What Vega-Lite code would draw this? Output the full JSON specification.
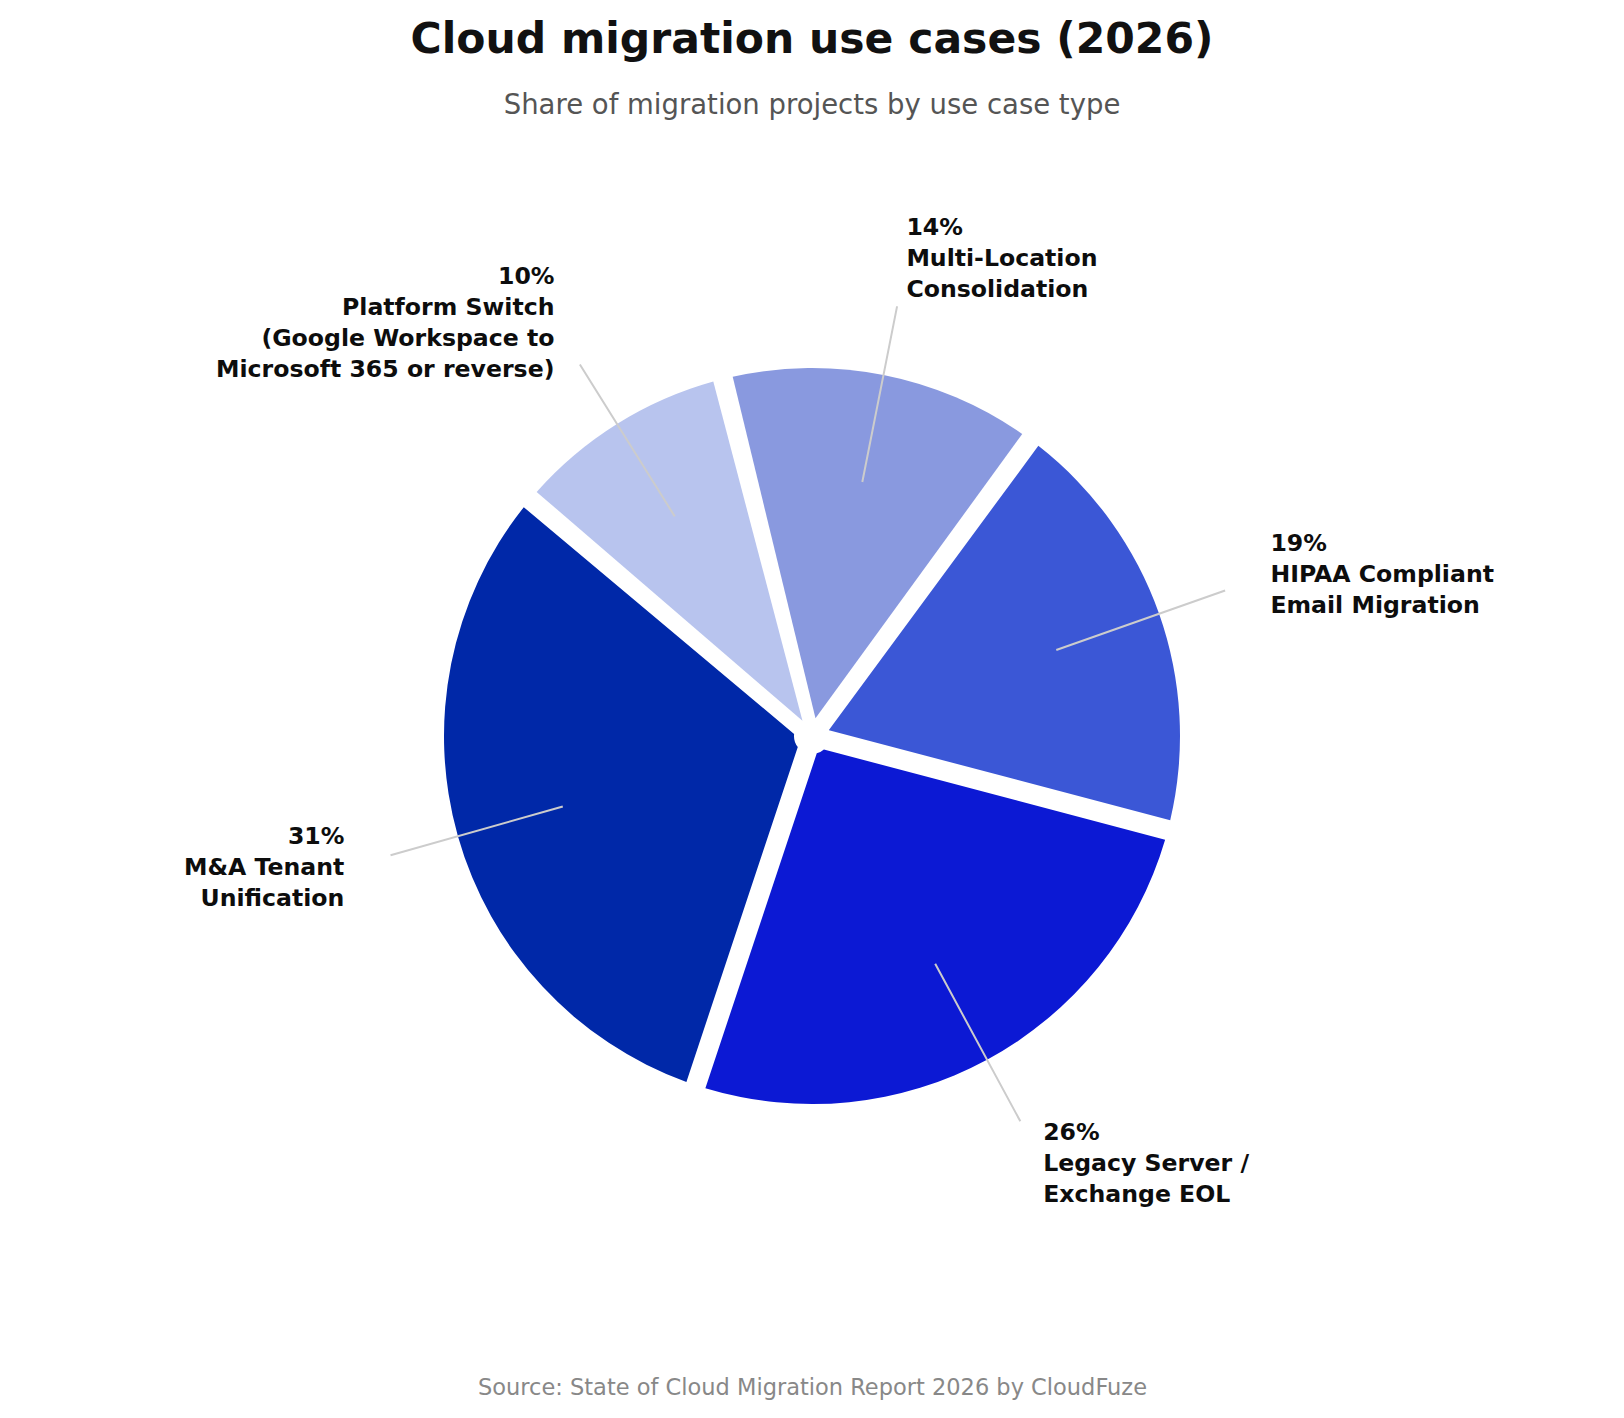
{
  "$schema": "https://vega.github.io/schema/vega-lite/v6.json",
  "autosize": {"type": "fit", "contains": "padding"},
  "width": 1624,
  "height": 1418,
  "padding": {"left": 0, "right": 0, "top": 19, "bottom": 19},
  "background": "white",
  "title": {
    "text": "Cloud migration use cases (2026)",
    "subtitle": "Share of migration projects by use case type",
    "anchor": "middle",
    "font": "DejaVu Sans",
    "fontSize": 42.5,
    "fontWeight": "bold",
    "color": "#111111",
    "subtitleFont": "DejaVu Sans",
    "subtitleFontSize": 27.5,
    "subtitleColor": "#555555",
    "subtitlePadding": 30,
    "offset": 10
  },
  "data": {
    "values": [
      {"use_case": "M&A Tenant Unification", "share": 31, "label": ["31%", "M&A Tenant", "Unification"]},
      {"use_case": "Legacy Server / Exchange EOL", "share": 26, "label": ["26%", "Legacy Server /", "Exchange EOL"]},
      {"use_case": "HIPAA Compliant Email Migration", "share": 19, "label": ["19%", "HIPAA Compliant", "Email Migration"]},
      {"use_case": "Multi-Location Consolidation", "share": 14, "label": ["14%", "Multi-Location", "Consolidation"]},
      {"use_case": "Platform Switch (Google Workspace to Microsoft 365 or reverse)", "share": 10, "label": ["10%", "Platform Switch", "(Google Workspace to", "Microsoft 365 or reverse)"]}
    ]
  },
  "layer": [
    {
      "mark": {"type": "arc", "radius": 368, "radius2": 18, "padAngle": 0.0543},
      "encoding": {
        "theta": {"field": "share", "type": "quantitative", "stack": true, "scale": {"range": [5.4105, 11.6937]}},
        "order": {"field": "share", "sort": "ascending"},
        "color": {
          "field": "use_case",
          "type": "nominal",
          "legend": null,
          "scale": {
            "domain": ["M&A Tenant Unification", "Legacy Server / Exchange EOL", "HIPAA Compliant Email Migration", "Multi-Location Consolidation", "Platform Switch (Google Workspace to Microsoft 365 or reverse)"],
            "range": ["#0028a8", "#0c19d4", "#3b57d6", "#8999df", "#b8c4ee"]
          }
        }
      }
    },
    {
      "mark": {"type": "arc", "radius": 438, "radius2": 259, "padAngle": 3.1416, "filled": false, "stroke": "#cccccc", "strokeWidth": 2},
      "encoding": {
        "theta": {"field": "share", "type": "quantitative", "stack": true},
        "order": {"field": "share", "sort": "ascending"}
      }
    },
    {
      "mark": {
        "type": "text",
        "radius": 486,
        "font": "DejaVu Sans",
        "fontSize": 23.6,
        "fontWeight": "bold",
        "lineHeight": 31,
        "baseline": "middle",
        "color": "#0d0d0d",
        "align": {"expr": "indexof(['M&A Tenant Unification', 'Platform Switch (Google Workspace to Microsoft 365 or reverse)'], datum.use_case) >= 0 ? 'right' : 'left'"},
        "dy": {"expr": "-(length(datum.label) - 1) * 31 / 2"}
      },
      "encoding": {
        "theta": {"field": "share", "type": "quantitative", "stack": true},
        "order": {"field": "share", "sort": "ascending"},
        "text": {"field": "label", "type": "nominal"}
      }
    },
    {
      "mark": {"type": "point", "opacity": 0},
      "encoding": {
        "x": {
          "field": "share",
          "type": "quantitative",
          "axis": {
            "title": "Source: State of Cloud Migration Report 2026 by CloudFuze",
            "titleFont": "DejaVu Sans",
            "titleFontSize": 22.5,
            "titleFontWeight": "normal",
            "titleColor": "#888888",
            "titlePadding": 33,
            "labels": false,
            "ticks": false,
            "domain": false,
            "grid": false
          }
        }
      }
    }
  ],
  "config": {"view": {"stroke": null}}
}
